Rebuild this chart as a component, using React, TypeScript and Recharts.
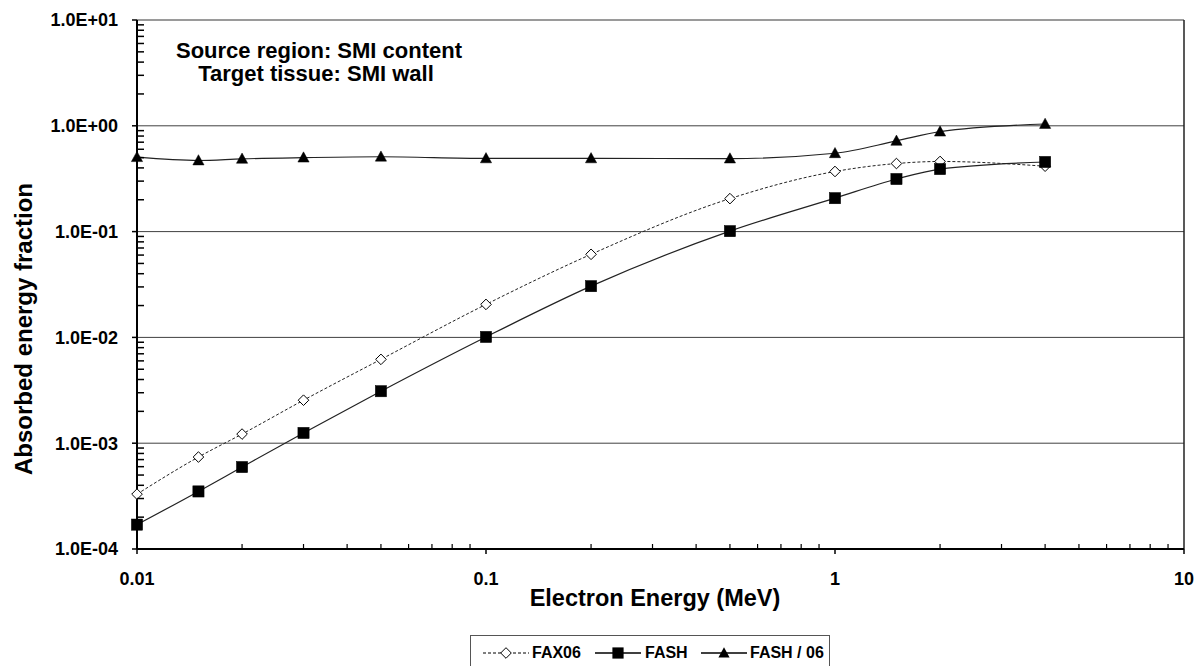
import React from 'react';
import { LineChart, Line, XAxis, YAxis, CartesianGrid, ReferenceLine, Customized } from 'recharts';

// Electron energy (MeV)
const energies = [0.01, 0.015, 0.02, 0.03, 0.05, 0.1, 0.2, 0.5, 1, 1.5, 2, 4];
// Absorbed energy fraction
const fax06 = [3.3e-4, 7.4e-4, 1.22e-3, 2.55e-3, 6.2e-3, 0.0205, 0.061, 0.205, 0.37, 0.44, 0.46, 0.415];
const fash = [1.7e-4, 3.5e-4, 5.95e-4, 1.25e-3, 3.1e-3, 0.0101, 0.0305, 0.101, 0.207, 0.314, 0.39, 0.455];
const fash06 = [0.505, 0.47, 0.487, 0.5, 0.51, 0.492, 0.492, 0.49, 0.55, 0.72, 0.88, 1.04];

const seriesNames = ['FAX06', 'FASH', 'FASH / 06'];
const titleLines = ['Source region: SMI content', 'Target tissue: SMI wall'];
const xTitle = 'Electron Energy (MeV)';
const yTitle = 'Absorbed energy fraction';

const xMajorTicks = [0.01, 0.1, 1, 10];
const yMajorTicks = [1e-4, 1e-3, 1e-2, 1e-1, 1, 10];
const minorMultipliers = [2, 3, 4, 5, 6, 7, 8, 9];
const xMinorTicks = [0.01, 0.1, 1].flatMap((d) => minorMultipliers.map((m) => m * d));
const yMinorTicks = [1e-4, 1e-3, 1e-2, 1e-1, 1].flatMap((d) => minorMultipliers.map((m) => m * d));

const data = energies.map((e, i) => ({ e, fax06: fax06[i], fash: fash[i], fash06: fash06[i] }));

const FONT = '"Liberation Sans", Arial, Helvetica, sans-serif';

const isMajor = (v: number) => {
  const l = Math.log10(v);
  return Math.abs(l - Math.round(l)) < 1e-9;
};
const fmtY = (v: number) => {
  const e = Math.round(Math.log10(v));
  return `1.0E${e < 0 ? '-' : '+'}${String(Math.abs(e)).padStart(2, '0')}`;
};
const fmtX = (v: number) => {
  const e = Math.round(Math.log10(v));
  return e < 0 ? v.toFixed(-e) : String(Math.round(v));
};

const Y_TICK_SIZE = 5;
const Y_TICK_MARGIN = 14;
const X_TICK_SIZE = 5;
const X_TICK_MARGIN = 18;

const YTick = (props: any) => {
  const { x, y, payload } = props;
  const v = payload.value;
  const ax = x + Y_TICK_SIZE + Y_TICK_MARGIN;
  if (isMajor(v)) {
    return (
      <g>
        <line x1={ax - Y_TICK_SIZE} x2={ax} y1={y} y2={y} stroke="#000" strokeWidth={1.5} />
        <text x={x} y={y} dy={6.4} textAnchor="end" fontFamily={FONT} fontWeight="bold" fontSize={18} fill="#000">
          {fmtY(v)}
        </text>
      </g>
    );
  }
  return (
    <g>
      <line x1={ax} x2={ax + 7} y1={y} y2={y} stroke="#000" strokeWidth={1.5} />
    </g>
  );
};

const XTick = (props: any) => {
  const { x, y, payload } = props;
  const v = payload.value;
  const ay = y - X_TICK_SIZE - X_TICK_MARGIN;
  if (isMajor(v)) {
    return (
      <g>
        <line x1={x} x2={x} y1={ay} y2={ay + X_TICK_SIZE} stroke="#000" strokeWidth={1.5} />
        <text x={x} y={y} dy={12.8} textAnchor="middle" fontFamily={FONT} fontWeight="bold" fontSize={18} fill="#000">
          {fmtX(v)}
        </text>
      </g>
    );
  }
  return <line x1={x} x2={x} y1={ay} y2={ay - 5} stroke="#000" strokeWidth={1.2} />;
};

const renderDiamond = (p: any) => {
  const { cx, cy, index } = p;
  if (cx == null || cy == null) return <g key={`d${index}`} />;
  const r = 5.3;
  return (
    <path key={`d${index}`} d={`M${cx},${cy - r}L${cx + r},${cy}L${cx},${cy + r}L${cx - r},${cy}Z`} fill="#fff" stroke="#000" strokeWidth={1} />
  );
};
const renderSquare = (p: any) => {
  const { cx, cy, index } = p;
  if (cx == null || cy == null) return <g key={`s${index}`} />;
  const r = 5.6;
  return <rect key={`s${index}`} x={cx - r} y={cy - r} width={2 * r} height={2 * r} fill="#000" stroke="#000" strokeWidth={0.5} />;
};
const renderTriangle = (p: any) => {
  const { cx, cy, index } = p;
  if (cx == null || cy == null) return <g key={`t${index}`} />;
  return (
    <path key={`t${index}`} d={`M${cx},${cy - 5.8}L${cx + 5.6},${cy + 4.4}L${cx - 5.6},${cy + 4.4}Z`} fill="#000" stroke="#000" strokeWidth={0.5} />
  );
};

const Titles = () => (
  <g fontFamily={FONT} fontWeight="bold" fill="#000">
    <text x={311} y={49.5} textAnchor="middle" fontSize={22}>{titleLines[0]}</text>
    <text x={308} y={73} textAnchor="middle" fontSize={22}>{titleLines[1]}</text>
    <text x={647} y={598} textAnchor="middle" fontSize={23.5}>{xTitle}</text>
    <text x={23.5} y={321} textAnchor="middle" fontSize={24} transform="rotate(-90, 23.5, 321)">{yTitle}</text>
  </g>
);

const LegendSample = ({ kind }: { kind: number }) => (
  <svg width={46} height={20} style={{ position: 'absolute', top: 7, left: 0 }}>
    <line x1={0} x2={46} y1={10} y2={10} stroke="#000" strokeWidth={kind === 0 ? 1 : 1.4} strokeDasharray={kind === 0 ? '3 2' : undefined} />
    {kind === 0 && <path d="M23,4.7L28.3,10L23,15.3L17.7,10Z" fill="#fff" stroke="#000" />}
    {kind === 1 && <rect x={17.4} y={4.4} width={11.2} height={11.2} fill="#000" />}
    {kind === 2 && <path d="M23,4.2L28.6,14.4L17.4,14.4Z" fill="#000" />}
  </svg>
);

const legendItems = [
  { left: 12, text: 61 },
  { left: 124, text: 174 },
  { left: 230, text: 279 },
];

export default function App() {
  return (
    <div style={{ position: 'relative', width: 1195, height: 658 }}>
      <LineChart width={1195} height={620} data={data} margin={{ top: 12, right: 19, left: 0, bottom: 5 }}>
        <CartesianGrid vertical={false} horizontalValues={yMajorTicks} stroke="#404040" strokeWidth={1} />
        <XAxis
          dataKey="e"
          type="number"
          scale="log"
          domain={[0.01, 10]}
          ticks={[...xMajorTicks, ...xMinorTicks]}
          interval={0}
          tickSize={X_TICK_SIZE}
          tickMargin={X_TICK_MARGIN}
          tickLine={false}
          tick={<XTick />}
          height={74}
          axisLine={{ stroke: '#000', strokeWidth: 2 }}
        />
        <YAxis
          type="number"
          scale="log"
          domain={[1e-4, 10]}
          ticks={[...yMajorTicks, ...yMinorTicks]}
          interval={0}
          tickSize={Y_TICK_SIZE}
          tickMargin={Y_TICK_MARGIN}
          tickLine={false}
          tick={<YTick />}
          width={129}
          axisLine={{ stroke: '#000', strokeWidth: 2 }}
        />
        <ReferenceLine y={10} stroke="#999" strokeWidth={1.5} />
        <ReferenceLine x={10} stroke="#222" strokeWidth={1.5} />
        <Line
          dataKey="fax06"
          name={seriesNames[0]}
          type="monotone"
          stroke="#222"
          strokeWidth={1}
          strokeDasharray="3 2"
          dot={renderDiamond}
          activeDot={false}
          isAnimationActive={false}
        />
        <Line
          dataKey="fash"
          name={seriesNames[1]}
          type="monotone"
          stroke="#222"
          strokeWidth={1.2}
          dot={renderSquare}
          activeDot={false}
          isAnimationActive={false}
        />
        <Line
          dataKey="fash06"
          name={seriesNames[2]}
          type="monotone"
          stroke="#222"
          strokeWidth={1.2}
          dot={renderTriangle}
          activeDot={false}
          isAnimationActive={false}
        />
        <Customized component={Titles} />
      </LineChart>
      <div
        style={{
          position: 'absolute',
          left: 462,
          top: 627,
          width: 360,
          height: 40,
          border: '1px solid #555',
          boxSizing: 'border-box',
          background: '#fff',
          fontFamily: FONT,
          fontWeight: 'bold',
          fontSize: 16,
        }}
      >
        {legendItems.map((it, i) => (
          <React.Fragment key={i}>
            <div style={{ position: 'absolute', left: it.left, top: 0 }}>
              <LegendSample kind={i} />
            </div>
            <span style={{ position: 'absolute', left: it.text, top: 7, lineHeight: '20px', whiteSpace: 'nowrap' }}>
              {seriesNames[i]}
            </span>
          </React.Fragment>
        ))}
      </div>
    </div>
  );
}
